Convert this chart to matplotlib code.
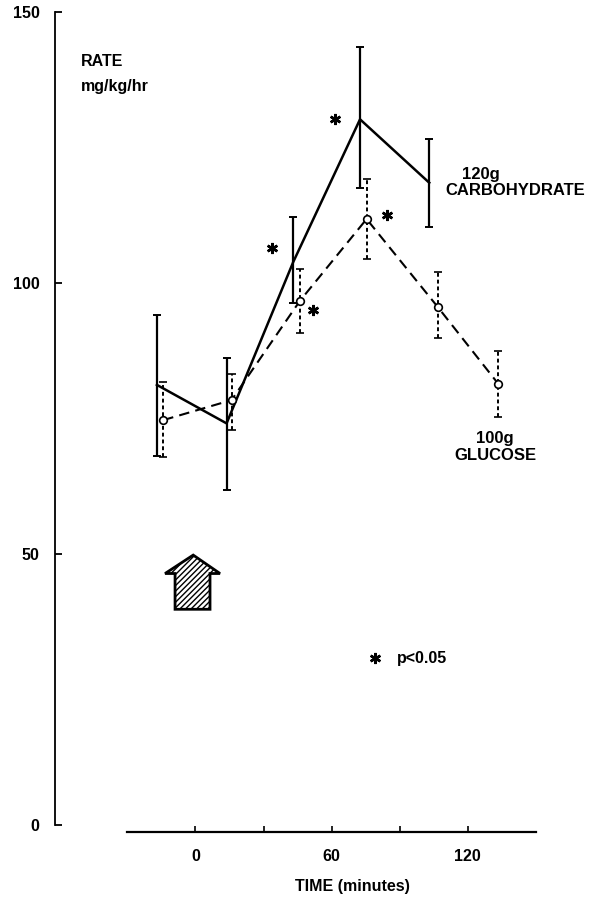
import matplotlib
matplotlib.use("Agg")
import matplotlib.pyplot as plt
from matplotlib.patches import Polygon

plt.rcParams['font.family'] = ['Liberation Sans', 'DejaVu Sans']
plt.rcParams['font.weight'] = 'bold'
plt.rcParams['font.size'] = 11.5

# ---------------- data ----------------
# 120g carbohydrate (solid line)
carb_t = [-17.0, 13.7, 43.1, 72.5, 103.0]
carb_rate = [81.2, 74.1, 103.9, 130.2, 118.5]
carb_lo = [68.0, 61.9, 96.3, 117.5, 110.4]
carb_hi = [94.1, 86.2, 112.2, 143.6, 126.5]

# 100g glucose (dashed line, open circles)
gluc_t = [-14.2, 15.9, 46.0, 75.4, 106.7, 133.4]
gluc_rate = [74.7, 78.4, 96.7, 111.8, 95.6, 81.4]
gluc_lo = [67.9, 72.9, 90.7, 104.4, 89.8, 75.3]
gluc_hi = [81.7, 83.2, 102.5, 119.1, 102.1, 87.5]

# significance marks (p<0.05)
star_t = [33.6, 61.5, 51.9, 84.2]
star_rate = [106.4, 130.3, 95.1, 112.5]

x_ticks = [0, 60, 120]
x_minor = [30, 90]
y_ticks = [0, 50, 100, 150]

# ---------------- figure ----------------
fig = plt.figure(figsize=(5.91, 8.99), dpi=100)
W, H = 591, 899
left_px, right_px, top_px, bot_px = 55, 540, 12, 845
ax = fig.add_axes([left_px / W, 1 - bot_px / H,
                   (right_px - left_px) / W, (bot_px - top_px) / H])
ax.set_xlim(-61.9, 151.8)
ax.set_ylim(-3.69, 150)


def err(v, lo, hi):
    return [[a - b for a, b in zip(v, lo)], [b - a for a, b in zip(v, hi)]]


# solid series
ax.errorbar(carb_t, carb_rate, yerr=err(carb_rate, carb_lo, carb_hi),
            color='black', lw=1.8, elinewidth=1.6, capsize=3, capthick=1.4,
            zorder=3)

# dashed series
eb = ax.errorbar(gluc_t, gluc_rate, yerr=err(gluc_rate, gluc_lo, gluc_hi),
                 color='black', lw=1.5, ls=(0, (5, 3)), elinewidth=1.4,
                 capsize=3, capthick=1.3, marker='o', ms=5.5,
                 mfc='white', mec='black', mew=1.2, zorder=4)
eb[2][0].set_linestyle((0, (2, 1.5)))

# asterisks
ax.plot(star_t, star_rate, ls='none', marker=(6, 2, 0), ms=8, mew=1.8,
        color='black')
ax.plot([79.1], [30.8], ls='none', marker=(6, 2, 0), ms=8, mew=1.8,
        color='black')
ax.text(88.7, 30.8, "p<0.05", ha='left', va='center')

# meal arrow at time 0
arrow = Polygon([(-9.0, 39.8), (6.4, 39.8), (6.4, 46.4), (10.8, 46.4),
                 (-1.0, 49.8), (-13.4, 46.4), (-9.0, 46.4)],
                closed=True, facecolor='white', edgecolor='black', lw=2,
                hatch='//////', zorder=2)
ax.add_patch(arrow)

# labels
ax.text(-50.4, 140.9, "RATE", ha='left', va='center', fontsize=11.5)
ax.text(-50.4, 136.2, "mg/kg/hr", ha='left', va='center', fontsize=11.5)
ax.text(117.5, 120.1, "120g", ha='left', va='center', fontsize=12)
ax.text(109.9, 117.1, "CARBOHYDRATE", ha='left', va='center', fontsize=12)
ax.text(132.0, 71.4, "100g", ha='center', va='center', fontsize=12)
ax.text(132.0, 68.1, "GLUCOSE", ha='center', va='center', fontsize=12)

# axes styling
for s in ['top', 'right']:
    ax.spines[s].set_visible(False)
ax.spines['left'].set_bounds(0, 150)
ax.spines['left'].set_linewidth(1.3)
ax.spines['bottom'].set_position(('data', -1.3))
ax.spines['bottom'].set_bounds(-30, 150)
ax.spines['bottom'].set_linewidth(1.6)

ax.set_yticks(y_ticks)
ax.set_xticks(x_ticks)
ax.set_xticks(x_minor, minor=True)
ax.tick_params(axis='y', direction='in', length=5, width=1.3, pad=11,
               labelsize=11.5)
ax.tick_params(axis='x', direction='in', length=4, width=1.2, pad=12,
               labelsize=11.5)
ax.tick_params(axis='x', which='minor', direction='in', length=4, width=1.2)

fig.text(352 / W, 1 - 886 / H, "TIME (minutes)", ha='center', va='center',
         fontsize=11.5)

fig.savefig("out.png", dpi=100, facecolor='white')
